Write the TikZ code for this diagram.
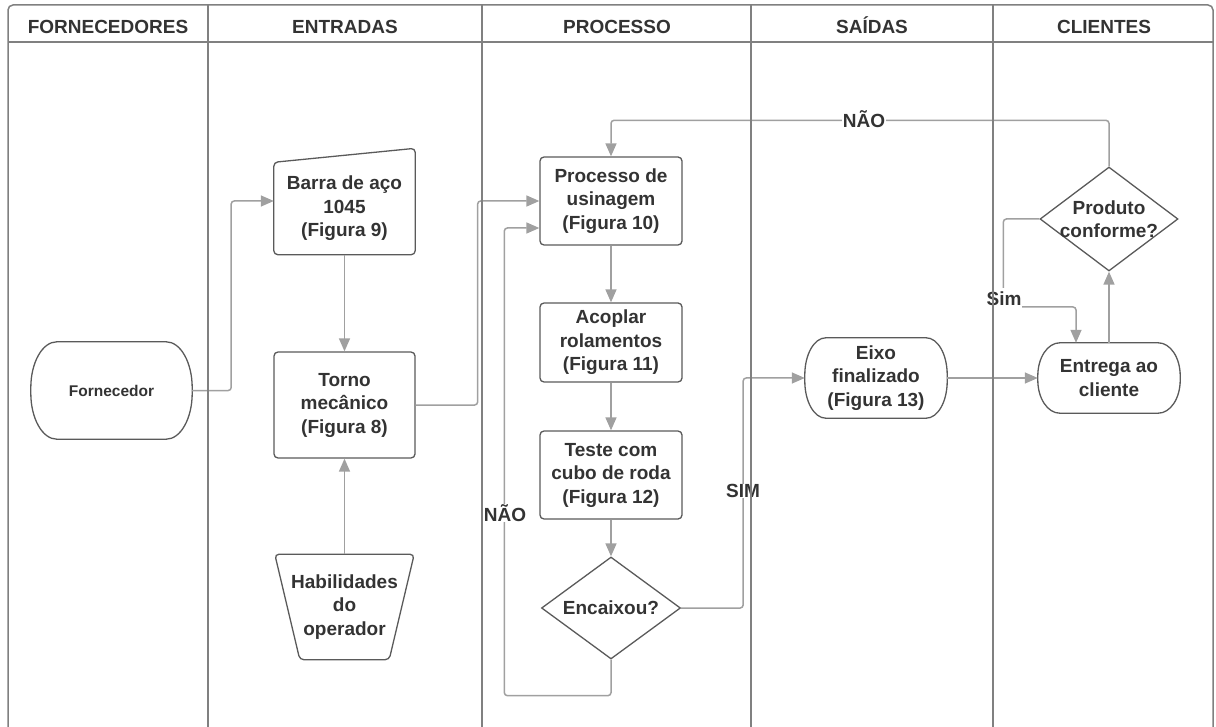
\documentclass[tikz,border=0pt]{standalone}
\usepackage{fontspec}
\setmainfont{Liberation Sans}
\usetikzlibrary{shapes.geometric,arrows.meta,calc}
\definecolor{boxc}{HTML}{5A5A5A}
\definecolor{connc}{HTML}{A0A0A0}
\definecolor{framec}{HTML}{808080}
\definecolor{txtc}{HTML}{333333}
\newcommand\txtfont{\bfseries\fontsize{19}{23.5}\selectfont}
\newcommand\termdraw[3]{%
 \draw[boxline] ($(#1.north west)+(#2pt,0pt)$) -- ($(#1.north east)+(-#2pt,0pt)$)
  arc[start angle=90,end angle=0,x radius=#2pt,y radius=#3pt]
  -- ($(#1.south east)+(0pt,#3pt)$)
  arc[start angle=0,end angle=-90,x radius=#2pt,y radius=#3pt]
  -- ($(#1.south west)+(#2pt,0pt)$)
  arc[start angle=270,end angle=180,x radius=#2pt,y radius=#3pt]
  -- ($(#1.north west)+(0pt,-#3pt)$)
  arc[start angle=180,end angle=90,x radius=#2pt,y radius=#3pt] -- cycle;}
\begin{document}
\begin{tikzpicture}[x=1pt,y=-1pt,
 boxline/.style={draw=boxc,line width=1.3pt},
 procbox/.style={boxline,rectangle,rounded corners=4pt,fill=white,minimum width=142pt,align=center,font=\txtfont,text=txtc,inner sep=2pt},
 plain/.style={rectangle,align=center,font=\txtfont,text=txtc,inner sep=2pt},
 decision/.style={boxline,diamond,inner sep=0pt,align=center,font=\txtfont,text=txtc},
 conn/.style={draw=connc,line width=1.5pt,rounded corners=3pt,-{Triangle[length=13pt,width=11pt]}},
 lbl/.style={fill=white,inner sep=0.5pt,font=\txtfont,text=txtc},
 head/.style={font=\bfseries\fontsize{19}{23}\selectfont,text=txtc,anchor=base},
 frame/.style={draw=framec,line width=1.5pt}]

\useasboundingbox (0,0) rectangle (1216,727);

% headers
\node[head] (h1) at (108,34) {FORNECEDORES};
\node[head] (h2) at (345,34) {ENTRADAS};
\node[head] (h3) at (617,34) {PROCESSO};
\node[head] (h4) at (872,34) {SAÍDAS};
\node[head] (h5) at (1104,34) {CLIENTES};

% nodes
\node[plain,minimum width=161pt,minimum height=97pt,font=\bfseries\fontsize{15.5}{19}\selectfont] (forn) at (111.5,390.5) {Fornecedor};
\termdraw{forn}{26}{46}

\node[plain,minimum width=141pt,minimum height=92pt] (barra) at (344.5,208.5) {Barra de aço\\1045\\(Figura 9)};
\draw[boxline,rounded corners=4pt] ($(barra.south west)!0.5!(barra.south east)$) -- (barra.south west) -- (barra.north west) -- ($(barra.north east)+(0pt,14pt)$) -- (barra.south east) -- cycle;

\node[procbox,minimum width=141pt,minimum height=106pt] (torno) at (344.5,405) {Torno\\mecânico\\(Figura 8)};

\node[plain,minimum width=139pt,minimum height=105pt] (hab) at (344.5,607) {Habilidades\\do\\operador};
\draw[boxline,rounded corners=4pt] ($(hab.north west)!0.5!(hab.north east)$) -- (hab.north east) -- ($(hab.south east)+(-25pt,0pt)$) -- ($(hab.south west)+(25pt,0pt)$) -- (hab.north west) -- cycle;

\node[procbox,minimum height=88pt] (proc) at (611,201) {Processo de\\usinagem\\(Figura 10)};
\node[procbox,minimum height=79pt] (acop) at (611,342.5) {Acoplar\\rolamentos\\(Figura 11)};
\node[procbox,minimum height=88pt] (teste) at (611,475) {Teste com\\cubo de roda\\(Figura 12)};
\node[decision,minimum width=139pt,minimum height=102pt] (enc) at (611,608) {\makebox[0pt]{Encaixou?}};

\node[plain,minimum width=142pt,minimum height=80pt] (eixo) at (876,378) {Eixo\\finalizado\\(Figura 13)};
\termdraw{eixo}{21}{37}
\node[plain,minimum width=142pt,minimum height=70pt] (entr) at (1109,378) {Entrega ao\\cliente};
\termdraw{entr}{22}{33}
\node[decision,minimum width=138pt,minimum height=104pt] (prod) at (1109,219) {\makebox[0pt]{Produto}\\\makebox[0pt]{conforme?}};

% connectors
\draw[conn] (forn.east) -- ++(39pt,0pt) |- ([yshift=7.5pt]barra.west);
\draw[conn] (barra.south) -- (torno.north);
\draw[conn] (hab.north) -- (torno.south);
\draw[conn] (torno.east) -- ++(62pt,0pt) |- (proc.west);
\draw[conn] (proc.south) -- (acop.north);
\draw[conn] (acop.south) -- (teste.north);
\draw[conn] (teste.south) -- (enc.north);
\draw[conn] (enc.south) -- ++(0pt,-36pt) -| ([xshift=-35pt,yshift=-27pt]proc.west) -- ([yshift=-27pt]proc.west);
\draw[conn] (enc.east) -- ++(62pt,0pt) |- (eixo.west);
\draw[conn] (eixo.east) -- (entr.west);
\draw[conn] (entr.north) -- (prod.south);
\draw[conn] (prod.north) -- ++(0pt,46pt) -| (proc.north);
\draw[conn] (prod.west) -- ++(-36pt,0pt) -- ++(0pt,-88pt) -| ([xshift=-33pt]entr.north);

% labels
\node[lbl] (nao1) at (505,513) {NÃO};
\node[lbl] (sim1) at (743,491) {SIM};
\node[lbl] (nao2) at (864,119) {NÃO};
\node[lbl,inner xsep=1pt,inner ysep=4pt] (sim2) at (1004,299) {Sim};

% frame
\draw[frame,rounded corners=5pt] (8,745) -- (8,5) -- (1213,5) -- (1213,745);
\draw[frame] (8,42) -- (1213,42);
\foreach \x in {208,482,751,993} \draw[frame] (\x,5) -- (\x,745);
\end{tikzpicture}
\end{document}
